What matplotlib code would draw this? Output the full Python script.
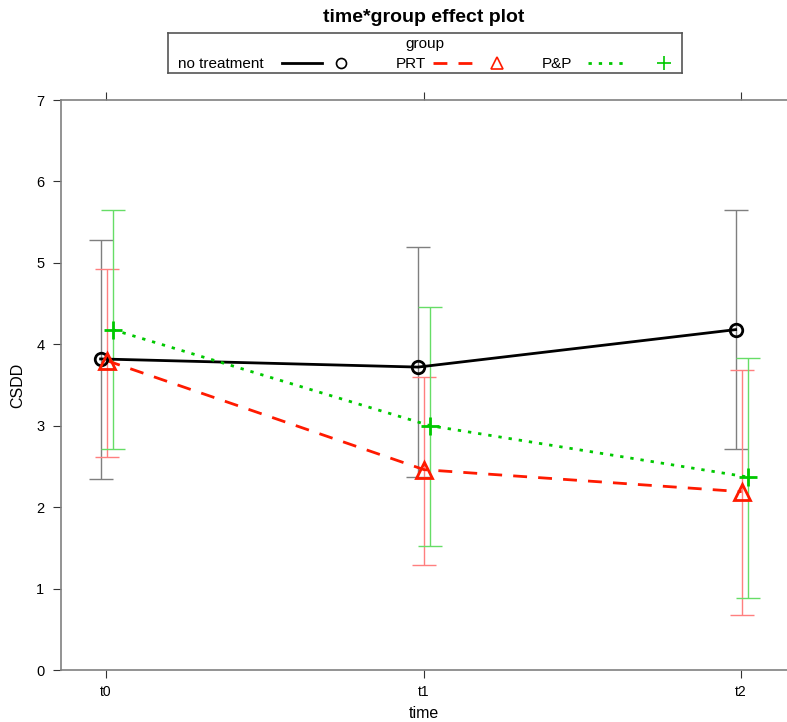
import matplotlib
matplotlib.use('Agg')
import matplotlib.pyplot as plt
from matplotlib.lines import Line2D

plt.rcParams['font.family'] = ['Liberation Sans', 'DejaVu Sans']

# effect estimates and 95% CIs
times = ['t0', 't1', 't2']
groups = ['no treatment', 'PRT', 'P&P']

fit_none = [3.82, 3.72, 4.18]
lo_none = [2.35, 2.37, 2.71]
hi_none = [5.28, 5.19, 5.65]

fit_prt = [3.80, 2.46, 2.19]
lo_prt = [2.62, 1.29, 0.67]
hi_prt = [4.92, 3.60, 3.68]

fit_pp = [4.18, 3.00, 2.37]
lo_pp = [2.71, 1.52, 0.89]
hi_pp = [5.65, 4.46, 3.83]

styles = [
    dict(color='black', bar='#7f7f7f', ls='-', marker='o', ms=9, off=-0.017),
    dict(color='#ff1a00', bar='#ff7f7f', ls=(0, (5, 4)), marker='^', ms=11, off=0.002),
    dict(color='#00c800', bar='#66dd66', ls=(0, (1.2, 2.5)), marker='+', ms=13, off=0.021),
]
fits = [fit_none, fit_prt, fit_pp]
los = [lo_none, lo_prt, lo_pp]
his = [hi_none, hi_prt, hi_pp]

W, H = 787, 722
fig = plt.figure(figsize=(W / 100, H / 100), dpi=100)
ax = fig.add_axes([61 / W, (H - 670) / H, (787 - 61) / W, (670 - 100) / H])

x = list(range(len(times)))
for st, f, lo, hi in zip(styles, fits, los, his):
    xs = [xi + st['off'] for xi in x]
    yerr = [[fi - l for fi, l in zip(f, lo)], [h - fi for fi, h in zip(f, hi)]]
    ax.errorbar(xs, f, yerr=yerr, fmt='none', ecolor=st['bar'], elinewidth=1.0,
                capsize=8.5, capthick=1.0, zorder=2)
    ax.plot(xs, f, color=st['color'], linestyle=st['ls'], linewidth=2, zorder=3)
    ax.plot(xs, f, linestyle='none', marker=st['marker'], markersize=st['ms'],
            markerfacecolor='none', markeredgecolor=st['color'], markeredgewidth=2, zorder=4)

ax.set_xlim(-45 / 317.5, (787 - 106) / 317.5)
ax.set_ylim(0, 7)
ax.set_xticks(x)
ax.set_xticklabels(times)
ax.set_yticks(range(0, 8))
ax.tick_params(axis='x', top=True, bottom=True, direction='out', length=6, pad=5,
               labelsize=10, color='#333333')
ax.tick_params(axis='y', left=True, direction='out', length=6, pad=6, labelsize=10.5,
               color='#333333')
for s in ['left', 'top', 'bottom']:
    ax.spines[s].set_color('#808080')
    ax.spines[s].set_linewidth(1.2)
ax.spines['right'].set_visible(False)

fig.text(424 / W, 1 - 713 / H, 'time', ha='center', va='center', fontsize=11.5)
fig.text(18 / W, 1 - 385 / H, 'CSDD', ha='center', va='center', rotation=90, fontsize=11.5)

fig.text(424 / W, 1 - 18 / H, 'time*group effect plot', ha='center', va='center',
         fontsize=14, fontweight='bold')

# legend box on top, like lattice key
lax = fig.add_axes([168 / W, 1 - 73 / H, (682 - 168) / W, (73 - 33) / H])
lax.set_xlim(168, 682)
lax.set_ylim(73, 33)
lax.set_xticks([])
lax.set_yticks([])
for s in lax.spines.values():
    s.set_color('#555555')
    s.set_linewidth(1.2)
lax.text(425, 44, 'group', ha='center', va='center', fontsize=11)
text_x = [221, 411, 557]
line_x = [(282, 322), (433, 473), (588, 628)]
mark_x = [341, 497, 664]
for g, st, tx, (l0, l1), mx in zip(groups, styles, text_x, line_x, mark_x):
    lax.text(tx, 64, g, ha='center', va='center', fontsize=11)
    lax.add_line(Line2D([l0, l1], [63, 63], color=st['color'], linestyle=st['ls'], linewidth=2))
    lax.plot([mx], [63], marker=st['marker'], markersize=st['ms'] * 0.8,
             markerfacecolor='none', markeredgecolor=st['color'], markeredgewidth=1.2)

fig.savefig('out.png', dpi=100)
